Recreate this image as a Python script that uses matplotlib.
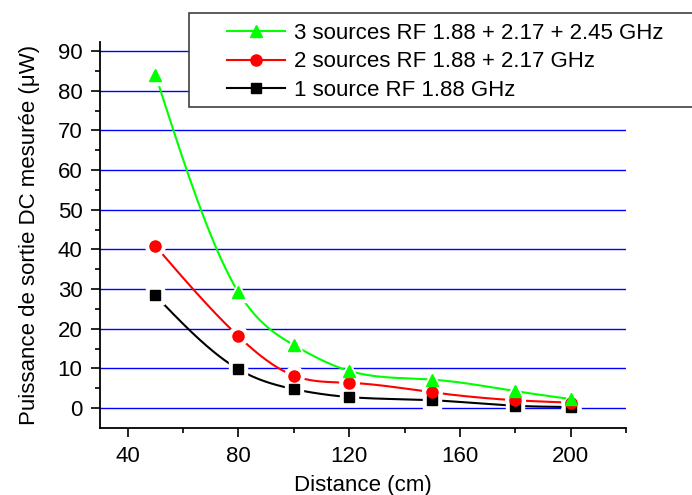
import numpy as np
import matplotlib
matplotlib.use("Agg")
import matplotlib.pyplot as plt
from matplotlib.patches import Rectangle
from matplotlib.lines import Line2D

plt.rcParams["font.family"] = ["Liberation Sans", "DejaVu Sans"]
plt.rcParams["font.size"] = 16

# data
distance = [50, 80, 100, 120, 150, 180, 200]
p_three = [84.1, 29.2, 15.9, 9.4, 7.2, 4.3, 2.3]
p_two = [40.9, 18.1, 8.2, 6.4, 4.0, 2.0, 1.4]
p_one = [28.4, 9.8, 4.8, 2.8, 2.0, 0.6, 0.3]

labels = ["3 sources RF 1.88 + 2.17 + 2.45 GHz",
          "2 sources RF 1.88 + 2.17 GHz",
          "1 source RF 1.88 GHz"]


def spline(x, y, n=300):
    # natural cubic spline, just for the smooth connecting line
    x = np.asarray(x, float)
    y = np.asarray(y, float)
    m = len(x)
    h = np.diff(x)
    A = np.zeros((m, m))
    r = np.zeros(m)
    A[0, 0] = A[-1, -1] = 1
    for i in range(1, m - 1):
        A[i, i - 1] = h[i - 1]
        A[i, i] = 2 * (h[i - 1] + h[i])
        A[i, i + 1] = h[i]
        r[i] = 6 * ((y[i + 1] - y[i]) / h[i] - (y[i] - y[i - 1]) / h[i - 1])
    M = np.linalg.solve(A, r)
    xs = np.linspace(x[0], x[-1], n)
    k = np.clip(np.searchsorted(x, xs) - 1, 0, m - 2)
    t0 = xs - x[k]
    t1 = x[k + 1] - xs
    hk = h[k]
    ys = (M[k] * t1**3 + M[k + 1] * t0**3) / (6 * hk) \
        + (y[k] / hk - M[k] * hk / 6) * t1 + (y[k + 1] / hk - M[k + 1] * hk / 6) * t0
    return xs, ys


fig = plt.figure(figsize=(6.92, 4.95), dpi=100)
ax = fig.add_axes([100 / 692, 67 / 495, 526 / 692, 386 / 495])

series = [(p_one, "black", "s", 7),
          (p_two, "red", "o", 8),
          (p_three, "#00ff00", "^", 8.5)]
z = 3
for vals, col, mk, ms in series:
    xs, ys = spline(distance, vals)
    ax.plot(xs, ys, color=col, lw=1.5, zorder=z)
    # white halo makes the gap between line and marker
    ax.plot(distance, vals, ls="none", marker=mk, ms=ms + 6, color="white",
            mec="white", zorder=z + 0.1)
    ax.plot(distance, vals, ls="none", marker=mk, ms=ms, color=col,
            mec=col, zorder=z + 10)
    z += 1

ax.set_xlim(30, 220)
ax.set_ylim(-5, 92.3)
ax.set_xticks([40, 80, 120, 160, 200])
ax.set_xticks([60, 100, 140, 180, 220], minor=True)
ax.set_yticks(np.arange(0, 91, 10))
ax.set_yticks(np.arange(5, 91, 10), minor=True)
ax.yaxis.grid(True, color="#0000ff", lw=1)
ax.set_axisbelow(True)

for s in ["top", "right"]:
    ax.spines[s].set_visible(False)
for s in ["left", "bottom"]:
    ax.spines[s].set_linewidth(1.3)
ax.tick_params(which="major", direction="out", length=6.2, width=1.2)
ax.tick_params(which="minor", direction="out", length=3.3, width=1.2)
ax.tick_params(axis="x", which="major", pad=6.5)
ax.tick_params(axis="y", which="major", pad=6.5)

ax.set_xlabel("Distance (cm)", labelpad=6)
ax.set_ylabel("Puissance de sortie DC mesurée (\u03bcW)", labelpad=12.5)

# legend box runs off the right edge in the original
fig.patches.append(Rectangle((189 / 692, 1 - 107 / 495), 520 / 692, 94 / 495,
                             transform=fig.transFigure, facecolor="white",
                             edgecolor="#404040", lw=1.2, zorder=10))
handles = [Line2D([], [], color=c, marker=m, ms=s, lw=1.5)
           for _, c, m, s in series[::-1]]
leg = fig.legend(handles, labels, loc="upper left",
                 bbox_to_anchor=(227 / 692, 1 - 23 / 495), frameon=False,
                 handlelength=2.6, handletextpad=0.4, labelspacing=0.33,
                 borderpad=0, borderaxespad=0)
leg.set_zorder(11)

fig.savefig("out.png", dpi=100)
